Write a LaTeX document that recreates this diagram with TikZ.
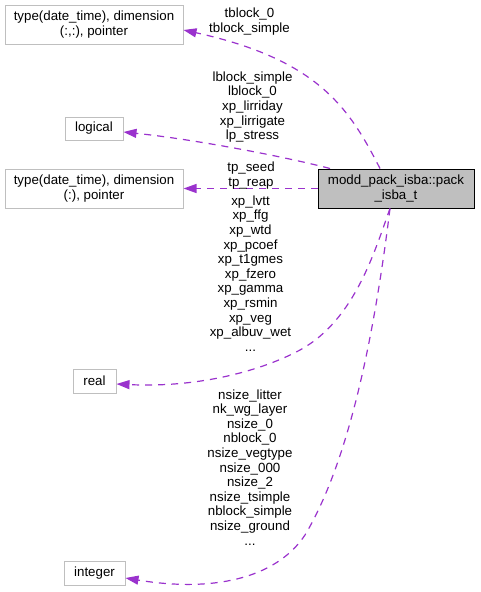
\documentclass[tikz,border=0pt]{standalone}
\usepackage{fontspec}
\setmainfont{Liberation Sans}
\usetikzlibrary{arrows.meta}
\definecolor{edgec}{HTML}{9A32CD}
\definecolor{boxc}{HTML}{BFBFBF}
\begin{document}
\begin{tikzpicture}[x=1pt,y=-1pt,
  every node/.style={font=\fontsize{13.3}{14.6}\selectfont},
  typebox/.style={draw=boxc, line width=1pt, fill=white, align=center, inner sep=0pt},
  mainbox/.style={draw=black, fill=boxc, line width=1pt, align=center, inner sep=0pt},
  lbl/.style={align=center, inner sep=0pt, anchor=north},
  dep/.style={draw=edgec, line width=1.2pt, dash pattern=on 7pt off 6pt, -{Triangle[length=13pt,width=9pt]}},
]
\useasboundingbox (0,0) rectangle (480,592);
\node[typebox, minimum width=178pt, minimum height=39pt] (tdd2) at (94,24.5) {type(date\_time), dimension\\(:,:), pointer};
\node[typebox, minimum width=58pt, minimum height=23pt] (logical) at (94,128.5) {logical};
\node[typebox, minimum width=178pt, minimum height=39pt] (tdd1) at (94,188.5) {type(date\_time), dimension\\(:), pointer};
\node[mainbox, minimum width=156pt, minimum height=39pt] (main) at (396,188.5) {modd\_pack\_isba::pack\\\_isba\_t};
\node[typebox, minimum width=43pt, minimum height=24pt] (real) at (94.5,381) {real};
\node[typebox, minimum width=61pt, minimum height=24pt] (integer) at (94.5,573) {integer};

\draw[dep] ([xshift=-16pt]main.north) .. controls (350,110) and (320,60) .. ([yshift=-5.5pt]tdd2.east);
\draw[dep] ([xshift=-66pt]main.north) .. controls (290,158) and (200,140) .. ([yshift=-3.5pt]logical.east);
\draw[dep] (main.west) -- (tdd1.east);
\draw[dep] ([xshift=-6pt]main.south) .. controls (375,250) and (355,320) .. (300,350) .. controls (263,370) and (200,388) .. ([yshift=-3pt]real.east);
\draw[dep] ([xshift=-6pt]main.south) .. controls (375,330) and (350,460) .. (305,535) .. controls (275,580) and (210,592) .. ([yshift=-5pt]integer.east);

\node[lbl] (l1) at (249.5,7.6) {tblock\_0\\tblock\_simple};
\node[lbl] (l2) at (252.5,71.5) {lblock\_simple\\lblock\_0\\xp\_lirriday\\xp\_lirrigate\\lp\_stress};
\node[lbl] (l3) at (251,162) {tp\_seed\\tp\_reap};
\node[lbl] (l4) at (250.5,195.5) {xp\_lvtt\\xp\_ffg\\xp\_wtd\\xp\_pcoef\\xp\_t1gmes\\xp\_fzero\\xp\_gamma\\xp\_rsmin\\xp\_veg\\xp\_albuv\_wet\\...};
\node[lbl] (l5) at (250,389.3) {nsize\_litter\\nk\_wg\_layer\\nsize\_0\\nblock\_0\\nsize\_vegtype\\nsize\_000\\nsize\_2\\nsize\_tsimple\\nblock\_simple\\nsize\_ground\\...};
\end{tikzpicture}
\end{document}
